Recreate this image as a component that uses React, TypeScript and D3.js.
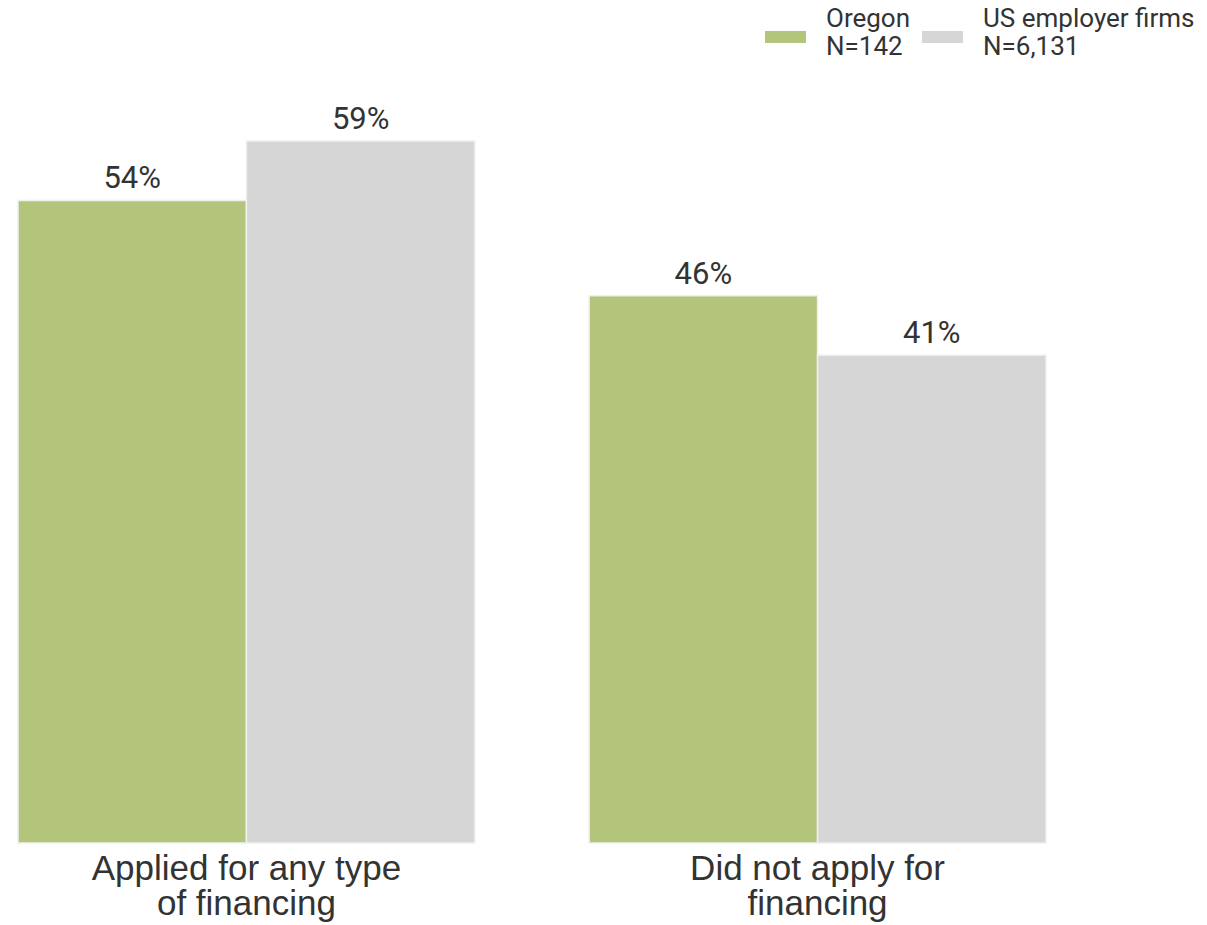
import React, { useRef, useEffect } from 'react';
import * as d3 from 'd3';

const categories = ['Applied for any type|of financing', 'Did not apply for|financing'];
const seriesNames = ['Oregon', 'US employer firms'];
const seriesN = ['N=142', 'N=6,131'];
const oregonValues = [54, 46];
const usValues = [59, 41];
const colors = ['#b3c57a', '#d6d6d6'];

export default function App() {
  const ref = useRef<SVGSVGElement>(null);
  const width = 1207;
  const height = 925;

  useEffect(() => {
    if (!ref.current) return;
    const svg = d3.select(ref.current);
    svg.selectAll('*').remove();

    const font = 'Roboto, sans-serif';
    const catFont = '"Liberation Sans", Arial, sans-serif';

    const x0 = d3.scaleBand<string>()
      .domain(categories)
      .range([18, 1046])
      .paddingInner(0.2)
      .paddingOuter(0);

    const x1 = d3.scaleBand<string>()
      .domain(seriesNames)
      .range([0, x0.bandwidth()])
      .padding(0);

    const y = d3.scaleLinear().domain([0, 59]).range([843, 141]);

    const rows = categories.map((c, i) => ({ cat: c, vals: [oregonValues[i], usValues[i]] }));

    const g = svg.append('g');
    const groups = g.selectAll('g.grp')
      .data(rows)
      .join('g')
      .attr('class', 'grp')
      .attr('transform', d => `translate(${x0(d.cat)},0)`);

    groups.selectAll('rect')
      .data(d => d.vals.map((v, j) => ({ v, j })))
      .join('rect')
      .attr('x', d => x1(seriesNames[d.j])!)
      .attr('y', d => y(d.v))
      .attr('width', x1.bandwidth())
      .attr('height', d => y(0) - y(d.v))
      .attr('fill', d => colors[d.j])
      .attr('stroke', '#f0f0f0')
      .attr('stroke-width', 1.5);

    groups.selectAll('text.val')
      .data(d => d.vals.map((v, j) => ({ v, j })))
      .join('text')
      .attr('class', 'val')
      .attr('x', d => x1(seriesNames[d.j])! + x1.bandwidth() / 2)
      .attr('y', d => y(d.v) - 12)
      .attr('text-anchor', 'middle')
      .style('font-family', font)
      .style('font-size', '31px')
      .attr('fill', '#333')
      .text(d => `${d.v}%`);

    // category labels
    groups.each(function (d) {
      const lines = d.cat.split('|');
      const t = d3.select(this).append('text')
        .attr('text-anchor', 'middle')
        .style('font-family', catFont)
        .style('font-size', '35px')
        .attr('fill', '#333');
      lines.forEach((ln, k) => {
        t.append('tspan')
          .attr('x', x0.bandwidth() / 2)
          .attr('y', 880 + k * 35)
          .text(ln);
      });
    });

    // legend
    const legendX = [765, 922];
    const legend = svg.append('g');
    seriesNames.forEach((s, i) => {
      const lg = legend.append('g').attr('transform', `translate(${legendX[i]},0)`);
      lg.append('rect')
        .attr('x', 0).attr('y', 31)
        .attr('width', 41).attr('height', 12)
        .attr('fill', colors[i]);
      const t = lg.append('text')
        .style('font-family', font)
        .style('font-size', '26px')
        .attr('fill', '#333');
      t.append('tspan').attr('x', 61).attr('y', 27).text(s);
      t.append('tspan').attr('x', 61).attr('y', 55).text(seriesN[i]);
    });
  }, []);

  return (
    <svg ref={ref} width={width} height={height}
      style={{ position: 'absolute', left: 0, top: 0, background: '#fff' }} />
  );
}
